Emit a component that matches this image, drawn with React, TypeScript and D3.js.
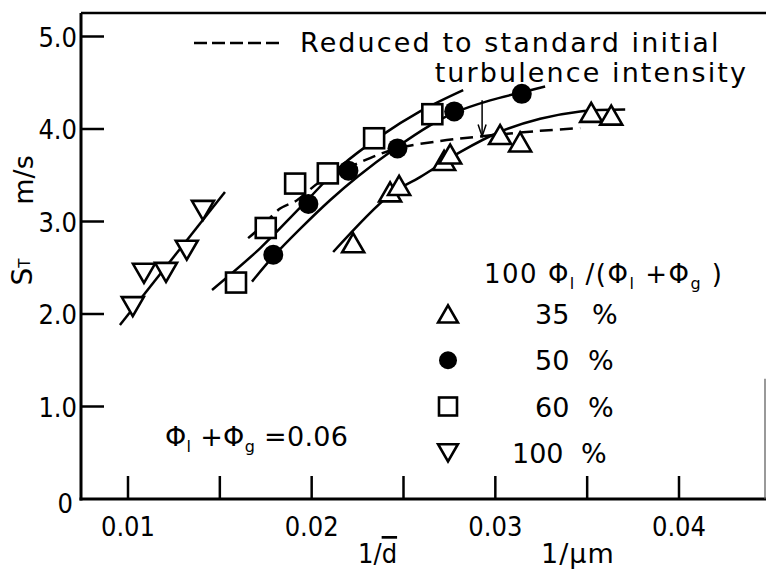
import React from 'react';
import * as d3 from 'd3';

const W = 767;
const H = 570;

// x ticks / labels
const xTicks = [0.01, 0.015, 0.02, 0.025, 0.03, 0.035, 0.04];
const xTickLabels = ['0.01', '0.02', '0.03', '0.04'];
const xTickLabelVals = [0.01, 0.02, 0.03, 0.04];
const yTicks = [1, 2, 3, 4, 5];
const yTickLabels = ['0', '1.0', '2.0', '3.0', '4.0', '5.0'];
const yTickLabelVals = [0, 1, 2, 3, 4, 5];

// 35 % (open up-triangles)
const p35X = [0.02226, 0.02427, 0.02476, 0.02721, 0.02754, 0.03026, 0.03135, 0.03522, 0.03631];
const p35Y = [2.77, 3.32, 3.39, 3.66, 3.73, 3.94, 3.86, 4.18, 4.15];
// 50 % (filled circles)
const p50X = [0.01791, 0.01982, 0.0220, 0.02467, 0.02776, 0.03144];
const p50Y = [2.64, 3.19, 3.55, 3.79, 4.19, 4.38];
// 60 % (open squares)
const p60X = [0.01588, 0.0175, 0.0191, 0.02088, 0.0234, 0.02657];
const p60Y = [2.34, 2.93, 3.41, 3.52, 3.90, 4.16];
// 100 % (open down-triangles)
const p100X = [0.01026, 0.01087, 0.01207, 0.0132, 0.01408];
const p100Y = [2.08, 2.44, 2.45, 2.69, 3.12];

// fitted curves
const c100X = [0.00956, 0.01528];
const c100Y = [1.88, 3.32];
const c60X = [0.014575, 0.01719, 0.01937, 0.02155, 0.02373, 0.0259, 0.02825];
const c60Y = [2.26, 2.71, 3.15, 3.59, 3.92, 4.19, 4.42];
const c50X = [0.01675, 0.0179, 0.01937, 0.0210, 0.02253, 0.02454, 0.02645, 0.02781, 0.02972, 0.03151, 0.03271];
const c50Y = [2.35, 2.62, 2.92, 3.23, 3.49, 3.79, 4.04, 4.18, 4.31, 4.40, 4.46];
const c35X = [0.02117, 0.02427, 0.0259, 0.02808, 0.03026, 0.03244, 0.03462, 0.03707];
const c35Y = [2.67, 3.29, 3.48, 3.75, 3.97, 4.11, 4.19, 4.21];
// reduced (dashed)
const cRedX = [0.01654, 0.0173, 0.01828, 0.0192, 0.02046, 0.02264, 0.02465, 0.027, 0.02917, 0.03244, 0.03462];
const cRedY = [2.82, 2.95, 3.14, 3.23, 3.43, 3.64, 3.79, 3.87, 3.92, 3.98, 4.01];
// arrow
const arrowX = [0.02928];
const arrowY = [4.31, 3.92];

const legendLabels = ['35', '50', '60', '100'];
const legendKinds = ['up', 'circle', 'square', 'down'];
const legendRowVals = [2.0, 1.5, 1.0, 0.5];

const FONT_C = '"DejaVu Sans Condensed", "DejaVu Sans", sans-serif';
const FONT = '"DejaVu Sans", sans-serif';

const x = d3.scaleLinear().domain([0.01, 0.04]).range([128, 679]);
const y = d3.scaleLinear().domain([0, 5]).range([499, 36.5]);

const zip = (xs: number[], ys: number[]) => xs.map((v, i) => [v, ys[i]] as [number, number]);
const line = d3
  .line<[number, number]>()
  .x((d) => x(d[0]))
  .y((d) => y(d[1]))
  .curve(d3.curveCatmullRom.alpha(0.5));

function Marker({ kind, cx, cy, s = 1 }: { kind: string; cx: number; cy: number; s?: number }) {
  const sw = 2.6;
  if (kind === 'circle') return <circle cx={cx} cy={cy} r={10 * s} fill="#000" />;
  if (kind === 'square')
    return (
      <rect x={cx - 10 * s} y={cy - 10 * s} width={20 * s} height={20 * s} fill="#fff" stroke="#000" strokeWidth={sw} />
    );
  const w = 11 * s;
  const h = 9.5 * s;
  if (kind === 'up')
    return (
      <path d={`M${cx - w},${cy + h}L${cx + w},${cy + h}L${cx},${cy - h}Z`} fill="#fff" stroke="#000" strokeWidth={sw} />
    );
  return (
    <path d={`M${cx - w},${cy - h}L${cx + w},${cy - h}L${cx},${cy + h}Z`} fill="#fff" stroke="#000" strokeWidth={sw} />
  );
}

export default function App() {
  const x0 = 81;
  const x1 = 766;
  const y0 = 499;
  const yTop = 13;
  const legX = 448;
  const pctX = [592, 588, 588, 581];
  const numX = [535, 535, 535, 512];
  return (
    <svg
      width={W}
      height={H}
      viewBox={`0 0 ${W} ${H}`}
      style={{ position: 'absolute', left: 0, top: 0, background: '#fff' }}
      fontFamily={FONT}
    >
      <rect x={0} y={0} width={W} height={H} fill="#fff" />
      {/* frame */}
      <line x1={x0} x2={x1} y1={yTop} y2={yTop} stroke="#000" strokeWidth={2.5} />
      <line x1={x0} x2={x0} y1={yTop} y2={y0 + 1.5} stroke="#000" strokeWidth={3} />
      <line x1={x0 - 1.5} x2={x1} y1={y0} y2={y0} stroke="#000" strokeWidth={3} />
      <line x1={x1 - 1} x2={x1 - 1} y1={y(1.3)} y2={y0} stroke="#555" strokeWidth={1.2} />

      {/* ticks */}
      {xTicks.map((t) => (
        <line key={'xt' + t} x1={x(t)} x2={x(t)} y1={y0} y2={y0 - 23} stroke="#000" strokeWidth={2.5} />
      ))}
      {yTicks.map((t) => (
        <line key={'yt' + t} x1={x0} x2={x0 + 23} y1={y(t)} y2={y(t)} stroke="#000" strokeWidth={2.5} />
      ))}
      {xTickLabelVals.map((t, i) => (
        <text key={'xl' + t} x={x(t)} y={536} textAnchor="middle" fontSize={27} fontFamily={FONT_C}>
          {xTickLabels[i]}
        </text>
      ))}
      {yTickLabelVals.map((t, i) => (
        <text
          key={'yl' + t}
          x={t === 0 ? 73 : 77}
          y={y(t) + (t === 0 ? 14 : 10)}
          textAnchor="end"
          fontSize={27}
          fontFamily={FONT_C}
        >
          {yTickLabels[i]}
        </text>
      ))}

      {/* axis titles */}
      <text x={358} y={563} fontSize={27} fontFamily={FONT_C}>
        1/<tspan style={{ textDecoration: 'overline' }}>d</tspan>
      </text>
      <text x={541} y={563} fontSize={27} letterSpacing={1}>
        1/μm
      </text>
      <text transform={`translate(32,${272}) rotate(-90)`} textAnchor="middle" fontSize={28}>
        S<tspan fontSize={15} dy={-2}>T</tspan>
      </text>
      <text transform={`translate(33,${180}) rotate(-90)`} textAnchor="middle" fontSize={27}>
        m/s
      </text>

      {/* curves */}
      <path d={line(zip(c100X, c100Y)) || ''} fill="none" stroke="#000" strokeWidth={2.5} />
      <path d={line(zip(c60X, c60Y)) || ''} fill="none" stroke="#000" strokeWidth={2.5} />
      <path d={line(zip(c50X, c50Y)) || ''} fill="none" stroke="#000" strokeWidth={2.5} />
      <path d={line(zip(c35X, c35Y)) || ''} fill="none" stroke="#000" strokeWidth={2.5} />
      <path d={line(zip(cRedX, cRedY)) || ''} fill="none" stroke="#000" strokeWidth={2.5} strokeDasharray="13,7" />
      {/* arrow */}
      <line x1={x(arrowX[0])} x2={x(arrowX[0])} y1={y(arrowY[0])} y2={y(arrowY[1])} stroke="#000" strokeWidth={1.5} />
      <path
        d={`M${x(arrowX[0]) - 4},${y(arrowY[1]) - 12}L${x(arrowX[0])},${y(arrowY[1])}L${x(arrowX[0]) + 4},${y(arrowY[1]) - 12}`}
        fill="none"
        stroke="#000"
        strokeWidth={1.5}
      />

      {/* markers */}
      {p100X.map((v, i) => (
        <Marker key={'d' + i} kind="down" cx={x(v)} cy={y(p100Y[i])} />
      ))}
      {p60X.map((v, i) => (
        <Marker key={'s' + i} kind="square" cx={x(v)} cy={y(p60Y[i])} />
      ))}
      {p35X.map((v, i) => (
        <Marker key={'u' + i} kind="up" cx={x(v)} cy={y(p35Y[i])} />
      ))}
      {p50X.map((v, i) => (
        <Marker key={'c' + i} kind="circle" cx={x(v)} cy={y(p50Y[i])} />
      ))}

      {/* top legend */}
      <line x1={194} x2={284} y1={43} y2={43} stroke="#000" strokeWidth={2.5} strokeDasharray="13,5" />
      <text x={300} y={52} fontSize={27} letterSpacing={2.1}>
        Reduced to standard initial
      </text>
      <text x={748} y={82} fontSize={27} textAnchor="end" letterSpacing={2.1}>
        turbulence intensity
      </text>

      {/* series legend */}
      <text x={484} y={283} fontSize={26} letterSpacing={1.5}>
        100 Φ<tspan fontSize={16} dy={6}>l</tspan>
        <tspan dy={-6}>{'  /(Φ'}</tspan>
        <tspan fontSize={16} dy={6}>l</tspan>
        <tspan dy={-6}>{'  +Φ'}</tspan>
        <tspan fontSize={16} dy={6}>g</tspan>
        <tspan dy={-6}>{'  )'}</tspan>
      </text>
      {legendKinds.map((k, i) => (
        <g key={'lg' + k}>
          <Marker kind={k} cx={legX} cy={y(legendRowVals[i])} s={0.9} />
          <text x={numX[i]} y={y(legendRowVals[i]) + 10} fontSize={27}>
            {legendLabels[i]}
          </text>
          <text x={pctX[i]} y={y(legendRowVals[i]) + 10} fontSize={27}>
            %
          </text>
        </g>
      ))}

      <text x={165} y={446} fontSize={27} letterSpacing={0.3}>
        Φ<tspan fontSize={16} dy={6}>l</tspan>
        <tspan dy={-6}>{' +Φ'}</tspan>
        <tspan fontSize={16} dy={6}>g</tspan>
        <tspan dy={-6}>{' =0.06'}</tspan>
      </text>
    </svg>
  );
}
